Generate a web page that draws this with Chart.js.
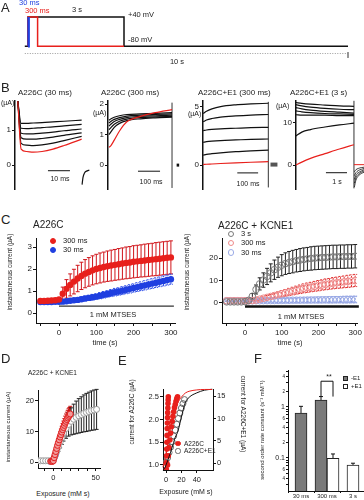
<!DOCTYPE html>
<html>
<head>
<meta charset="utf-8">
<script src="https://cdn.jsdelivr.net/npm/chart.js@4.4.1/dist/chart.umd.min.js"></script>
<style>
  body { margin: 0; background: #fff; }
  #fig { position: relative; width: 364px; height: 500px; overflow: hidden; font-family: "Liberation Sans", Arial, sans-serif; color: #222; }
  #fig div.t { position: absolute; white-space: nowrap; line-height: 1; }
  canvas { position: absolute; }
</style>
</head>
<body>
<div id="fig"></div>
<script>
// ---- A: voltage protocol (s, mV)
const protoT3s = [-0.1, 0, 0, 3, 3, 10];
const protoV3s = [-80, -80, 40, 40, -80, -80];
const protoT300 = [0, 0, 0.3, 0.3, 3];
const protoV300 = [-80, 40, 40, -80, -80];
const protoT30 = [0, 0, 0.03, 0.03];
const protoV30 = [-80, 40, 40, -80];
const protoDotT = [-0.1, 10];
const protoDotV = [-110, -110];

// ---- B: current traces (ms or s, µA)
const b1Time = [-1, 0.5, 3, 6, 10, 15, 20, 28];
const b1Traces = [
  [1.82, 1.19, 1.19, 1.2, 1.21, 1.23, 1.25, 1.28],
  [1.82, 1.05, 1.04, 1.05, 1.07, 1.09, 1.12, 1.16],
  [1.82, 0.91, 0.89, 0.89, 0.91, 0.94, 0.98, 1.03],
  [1.82, 0.78, 0.74, 0.74, 0.76, 0.8, 0.85, 0.92],
  [1.82, 0.62, 0.57, 0.56, 0.58, 0.63, 0.7, 0.82]
];
const b1Red = [1.82, 0.46, 0.39, 0.37, 0.39, 0.46, 0.56, 0.74];
const b1TailT = [28.2, 28.6, 29.3, 30.5, 31.5];
const b1TailV = [-0.55, -0.35, -0.22, -0.16, -0.14];

const b2Time = [0, 10, 25, 50, 85, 150, 220, 300];
const b2Traces = [
  [1.47, 1.52, 1.57, 1.62, 1.66, 1.68, 1.7, 1.72],
  [1.38, 1.44, 1.5, 1.56, 1.61, 1.64, 1.66, 1.68],
  [1.28, 1.35, 1.43, 1.5, 1.56, 1.6, 1.62, 1.64],
  [1.16, 1.24, 1.34, 1.44, 1.51, 1.56, 1.58, 1.6],
  [1.0, 1.1, 1.24, 1.37, 1.46, 1.52, 1.55, 1.57]
];
const b2Red = [0.58, 0.65, 0.82, 1.12, 1.42, 1.6, 1.72, 1.82];

const b3Time = [0, 15, 40, 80, 150, 220, 300];
const b3Traces = [
  [4.4, 4.6, 4.8, 5.0, 5.15, 5.22, 5.28],
  [3.7, 3.85, 3.98, 4.1, 4.2, 4.27, 4.32],
  [2.95, 3.0, 3.05, 3.1, 3.15, 3.2, 3.23],
  [1.95, 2.0, 2.05, 2.1, 2.15, 2.2, 2.23],
  [0.85, 0.92, 0.98, 1.05, 1.15, 1.22, 1.28]
];
const b3Red = [0.05, 0.08, 0.1, 0.14, 0.2, 0.25, 0.3];

const b4Time = [0, 0.3, 0.75, 1.5, 2.25, 3];
const b4Traces = [
  [14.8, 14.6, 14.4, 14.2, 14.0, 13.9],
  [14.3, 14.0, 13.7, 13.4, 13.2, 13.1],
  [13.6, 13.3, 13.0, 12.7, 12.5, 12.3],
  [12.8, 12.6, 12.4, 12.2, 12.1, 12.0],
  [11.9, 11.8, 11.8, 11.8, 11.7, 11.7],
  [6.9, 7.8, 8.4, 9.0, 9.5, 9.9]
];
const b4Red = [0, 0.7, 1.6, 2.7, 3.8, 4.8];
const b4TailT = [3.02, 3.1, 3.22, 3.38, 3.52];
const b4Tails = [
  [-5.2, -3.6, -2.6, -2.0, -1.7],
  [-4.3, -3.0, -2.2, -1.7, -1.4],
  [-3.4, -2.4, -1.8, -1.4, -1.1],
  [-2.5, -1.8, -1.3, -1.0, -0.8],
  [-1.6, -1.1, -0.8, -0.6, -0.5]
];

// ---- C: instantaneous current vs time (s, µA)
const cTime = [-50,-40,-30,-20,-10,0,10,20,30,40,50,60,70,80,90,100,110,120,130,140,150,160,170,180,190,200,210,220,230,240,250,260,270,280,290,300];
const cRed300 = [0.55,0.55,0.56,0.57,0.58,0.62,0.88,1.1,1.28,1.43,1.57,1.69,1.79,1.87,1.94,2.0,2.05,2.09,2.13,2.16,2.19,2.22,2.25,2.28,2.3,2.33,2.35,2.37,2.39,2.41,2.43,2.45,2.47,2.49,2.51,2.53];
const cRedErr = [0.04,0.04,0.04,0.05,0.05,0.08,0.3,0.42,0.5,0.56,0.6,0.62,0.64,0.65,0.66,0.67,0.68,0.68,0.69,0.7,0.7,0.71,0.71,0.72,0.72,0.73,0.73,0.73,0.74,0.74,0.74,0.75,0.75,0.75,0.75,0.75];
const cBlue30 = [0.5,0.5,0.5,0.5,0.51,0.51,0.52,0.54,0.56,0.58,0.6,0.63,0.66,0.69,0.72,0.75,0.79,0.83,0.87,0.91,0.95,0.98,1.02,1.06,1.1,1.14,1.18,1.22,1.26,1.3,1.34,1.38,1.42,1.46,1.5,1.54];
const cBlueErr = [0.03,0.03,0.03,0.03,0.03,0.04,0.05,0.06,0.07,0.08,0.09,0.1,0.11,0.12,0.13,0.13,0.14,0.15,0.15,0.16,0.17,0.17,0.18,0.18,0.19,0.19,0.2,0.2,0.21,0.21,0.22,0.22,0.22,0.23,0.23,0.23];

const kc3s = [0.5,0.5,0.5,0.5,0.5,0.6,1.2,3,6,8.5,10.2,11.8,13.4,14.8,15.9,16.8,17.5,18,18.4,18.8,19.1,19.4,19.6,19.8,20,20.1,20.2,20.3,20.4,20.5,20.5,20.6,20.6,20.7,20.7,20.8];
const kc3sErr = [0,0,0,0,0,0.3,0.6,1.2,2,2.7,3.2,3.6,4,4.3,4.5,4.7,4.8,4.9,5,5,5.1,5.1,5.1,5.2,5.2,5.2,5.2,5.2,5.2,5.2,5.2,5.2,5.2,5.2,5.2,5.2];
const kc300 = [1,1,1,1,1,1,1,1.1,1.3,1.7,2.1,2.5,2.9,3.3,3.7,4.1,4.5,4.9,5.3,5.7,6.1,6.5,6.8,7.1,7.4,7.7,8,8.3,8.5,8.8,9,9.2,9.4,9.6,9.8,10];
const kc300Err = [0,0,0,0,0,0,0,0.2,0.4,0.5,0.6,0.8,0.9,1.1,1.2,1.4,1.5,1.6,1.7,1.8,1.9,2,2.1,2.1,2.2,2.3,2.3,2.4,2.4,2.5,2.5,2.6,2.6,2.7,2.7,2.7];
const kc30 = [1,1,1,1,1,1,1,1,1.02,1.04,1.06,1.08,1.1,1.12,1.14,1.16,1.18,1.2,1.22,1.24,1.26,1.28,1.3,1.32,1.34,1.36,1.38,1.4,1.42,1.44,1.46,1.48,1.5,1.52,1.54,1.56];
const kc30Err = [0.3,0.3,0.3,0.3,0.3,0.3,0.4,0.5,0.6,0.6,0.7,0.7,0.8,0.8,0.9,0.9,1,1,1,1.1,1.1,1.1,1.2,1.2,1.2,1.3,1.3,1.3,1.4,1.4,1.4,1.4,1.5,1.5,1.5,1.5];
const cXTicks = [-50, 0, 50, 100, 150, 200, 250, 300];
const cXLabels = [0, 100, 200, 300];

// ---- D: current vs exposure (mM s, µA)
const d3sExp = [-18,-15,-12,-9,-6,-3,0,2,4,6,8,10,12,15,18,21,24,27,30,33,36,39,42,45,48,51];
const d3sCur = [0.5,0.5,0.5,0.5,0.5,0.5,0.8,2,3.5,5,6.5,8,9.5,11,12.3,13.3,14,14.6,15.1,15.5,15.9,16.2,16.5,16.8,17,17.2];
const d3sErr = [0,0,0,0,0,0,0.3,0.6,1,1.4,1.8,2.2,2.6,3.2,3.8,4.4,4.9,5.3,5.6,5.8,6,6.2,6.3,6.4,6.5,6.5];
const d300Exp = [-3,-2,-1,0,1,2,3,4,5,6,7,8,9,10,11,12,13,14,15,16,17,18,19,20];
const d300Cur = [0.3,0.3,0.3,0.5,1.5,2.5,3.5,4.5,5.5,6.4,7.3,8.2,9,9.8,10.6,11.3,12,12.7,13.3,13.9,14.4,14.9,15.3,15.7];
const d300Err = [0,0,0,0,0.3,0.5,0.7,0.9,1.1,1.3,1.5,1.7,1.8,1.9,2,2.1,2.2,2.3,2.4,2.4,2.5,2.5,2.5,2.5];
const d30Exp = [-4,-3,-2,-1,0,1,2,3];
const d30Cur = [0.3,0.3,0.3,0.4,0.7,1.3,2,2.7];

// ---- E: normalised comparison (mM s; µA left, µA right)
const eExpA1 = [0,0.2,0.4,0.6,0.8,1,1.2,1.4,1.6,1.8,2,2.2,2.4,2.6,2.8,3];
const eCurA1 = [0.6,0.75,0.9,1.05,1.2,1.35,1.5,1.65,1.8,1.92,2.04,2.15,2.25,2.35,2.43,2.5];
const eExpA2 = [0,1,2,3,4,5,6,7,8,9,10,11,12,13,14,15];
const eCurA2 = [0.6,0.8,1.0,1.2,1.38,1.55,1.7,1.84,1.96,2.07,2.17,2.26,2.33,2.4,2.46,2.5];
const eExpB = [0,2,4,6,8,10,12,14,16,18,20,22,24];
const eCurB = [0.2,1.2,2.4,3.6,4.8,6.1,7.4,8.7,10,11.2,12.3,13.3,14.2];
const eFitX = [-4,-2,0,2,4,6,8,10,12,15,20,25,30,40,50,60];
const eFitRed = [0.95,1.08,1.2,1.43,1.65,1.84,2.0,2.13,2.24,2.36,2.49,2.58,2.62,2.65,2.66,2.66];
const eFitBlack = [-1.5,-1.2,-0.4,0.5,1.5,2.5,3.6,4.7,5.8,6.9,10.3,13.5,14.7,15.7,16.3,16.5];

// ---- F: second order rate constants (s-1 mM-1)
const fCats = ['30 ms', '300 ms', '3 s'];
const fMinusE1 = [0.76, 1.37, null];
const fMinusErr = [0.27, 0.23, null];
const fPlusE1 = [null, 0.098, 0.073];
const fPlusErr = [null, 0.022, 0.006];
const fLogTicks = [0.03,0.04,0.05,0.06,0.07,0.08,0.09,0.1,0.2,0.3,0.4,0.5,0.6,0.7,0.8,0.9,1,2,3,4,5];

const RED = '#e8201c';
const BLUE = '#1f3fe0';
const fig = document.getElementById('fig');
Chart.defaults.font.family = '"Liberation Sans", Arial, sans-serif';
Chart.defaults.font.size = 8;
Chart.defaults.color = '#222';

// error bars drawn from a dataset's "errors" list through its own scales
const errorBars = {
  id: 'errorBars',
  beforeDatasetsDraw(chart) {
    const ctx = chart.ctx;
    chart.data.datasets.forEach((ds, di) => {
      if (!ds.errors) return;
      const meta = chart.getDatasetMeta(di);
      const ys = chart.scales[meta.yAxisID];
      ctx.save();
      ctx.strokeStyle = ds.errColor || '#111';
      ctx.lineWidth = ds.errWidth || 1;
      ctx.setLineDash(ds.errDash || []);
      meta.data.forEach((el, i) => {
        const e = ds.errors[i];
        const d = ds.data[i];
        const v = (typeof d === 'number') ? d : (d ? d.y : null);
        if (!e || v == null) return;
        const top = ys.getPixelForValue(v + e);
        const bot = ds.errUpOnly ? el.y : ys.getPixelForValue(v - e);
        const cw = ds.errCap == null ? 2 : ds.errCap;
        ctx.beginPath();
        ctx.moveTo(el.x, bot); ctx.lineTo(el.x, top);
        ctx.moveTo(el.x - cw, top); ctx.lineTo(el.x + cw, top);
        if (!ds.errUpOnly) { ctx.moveTo(el.x - cw, bot); ctx.lineTo(el.x + cw, bot); }
        ctx.stroke();
      });
      ctx.restore();
    });
  }
};
Chart.register(errorBars);

const xy = (xs, ys) => xs.map((x, i) => ({ x: x, y: ys[i] }));

function line(xs, ys, color, width, extra) {
  return Object.assign({
    data: xy(xs, ys), showLine: true, pointRadius: 0, borderColor: color,
    borderWidth: width, tension: 0, clip: false
  }, extra || {});
}
function trace(xs, ys, color, width) {
  return line(xs, ys, color, width || 1, { cubicInterpolationMode: 'monotone' });
}
function marks(xs, ys, r, fill, stroke, extra) {
  return Object.assign({
    data: xy(xs, ys), showLine: false, pointRadius: r, pointBackgroundColor: fill,
    pointBorderColor: stroke, pointBorderWidth: 1
  }, extra || {});
}

function axis(o) {
  const a = {
    type: o.type || 'linear',
    position: o.position || 'left',
    border: { display: true, color: '#111', width: o.bw || 1 },
    grid: { drawOnChartArea: false, drawTicks: true, tickLength: o.tl || 3, color: '#111' },
    ticks: { font: { size: o.fs || 8 }, padding: o.tp == null ? 1 : o.tp, color: '#222', autoSkip: false, maxRotation: 0 }
  };
  if (o.min != null) a.min = o.min;
  if (o.max != null) a.max = o.max;
  if (o.cb) a.ticks.callback = o.cb;
  if (o.font) a.ticks.font = o.font;
  if (o.gridOffset) a.grid.offset = true;
  if (o.ticksAt) a.afterBuildTicks = s => { s.ticks = o.ticksAt.map(v => ({ value: v })); };
  return a;
}

// place a canvas so its plot area lands on (x0,y0)-(x1,y1) of the page
function mkChart(L, T, W, H, x0, y0, x1, y1, cfg) {
  const c = document.createElement('canvas');
  c.width = W; c.height = H;
  c.style.left = L + 'px'; c.style.top = T + 'px';
  c.style.width = W + 'px'; c.style.height = H + 'px';
  fig.appendChild(c);
  const pad = { top: y0 - T, left: 0, right: 0, bottom: 0 };
  let hasL = false, hasR = false, hasB = false;
  const sc = cfg.options.scales;
  for (const k in sc) {
    const s = sc[k];
    if (s.display === false) continue;
    if (s.position === 'right') { hasR = true; s.afterFit = a => { a.width = L + W - x1; }; }
    else if (s.position === 'bottom') { hasB = true; s.afterFit = a => { a.height = T + H - y1; }; }
    else { hasL = true; s.afterFit = a => { a.width = x0 - L; }; }
  }
  if (!hasL) pad.left = x0 - L;
  if (!hasR) pad.right = L + W - x1;
  if (!hasB) pad.bottom = T + H - y1;
  cfg.options = Object.assign({
    responsive: false, animation: false, events: [], devicePixelRatio: 1,
    layout: { padding: pad },
    plugins: { legend: { display: false }, tooltip: { enabled: false } }
  }, cfg.options);
  return new Chart(c, cfg);
}
const hidden = (min, max) => ({ display: false, type: 'linear', min: min, max: max });

function txt(s, x, cy, size, o) {
  o = o || {};
  const d = document.createElement('div');
  d.className = 't';
  d.textContent = s;
  d.style.left = x + 'px';
  d.style.top = cy + 'px';
  d.style.fontSize = size + 'px';
  if (o.color) d.style.color = o.color;
  let tr = o.center ? 'translate(-50%,-50%)' : 'translateY(-50%)';
  if (o.rot) tr = 'translate(-50%,-50%) rotate(' + o.rot + 'deg)';
  d.style.transform = tr;
  fig.appendChild(d);
}
function key(cx, cy, r, fill, stroke, square) {
  const d = document.createElement('div');
  d.style.cssText = 'position:absolute;box-sizing:border-box;left:' + (cx - r) + 'px;top:' + (cy - r) +
    'px;width:' + (2 * r) + 'px;height:' + (2 * r) + 'px;background:' + fill + ';border:1px solid ' + stroke +
    ';border-radius:' + (square ? '0' : '50%');
  fig.appendChild(d);
}

// ---------- A
mkChart(0, 0, 364, 75, 24.8, 17, 348, 58.4, {
  type: 'scatter',
  data: { datasets: [
    line(protoT30, protoV30, BLUE, 2.5),
    line(protoT300, protoV300, RED, 1.5),
    line(protoT3s, protoV3s, '#111', 1.5),
    line([10, 10], [-104, -128], '#888', 1),
    line(protoDotT, protoDotV, '#9a9a9a', 1, { borderDash: [1, 1.5] })
  ] },
  options: { scales: { x: hidden(-0.1, 10), y: hidden(-130, 40) } }
});

// ---------- B
mkChart(0, 95, 92, 100, 15, 100, 90, 192, {
  type: 'scatter',
  data: { datasets: [
    trace(b1Time, b1Red, RED, 1.2),
    ...b1Traces.map(v => trace(b1Time, v, '#111', 1.2)),
    trace(b1TailT, b1TailV, '#111', 1.2),
    line([12.7, 22.7], [-0.155, -0.155], '#111', 1)
  ] },
  options: { scales: { x: hidden(-2.27, 31.8), y: axis({ min: -0.68, max: 1.83, ticksAt: [0, 1], bw: 1.5 }) } }
});
mkChart(88, 95, 95, 100, 108, 100, 180, 192, {
  type: 'scatter',
  data: { datasets: [
    trace(b2Time, b2Red, RED, 1.2),
    ...b2Traces.map(v => trace(b2Time, v, '#111', 1.2)),
    line([300, 300], [-0.75, 2.05], '#333', 1),
    line([322, 334], [0, 0], '#111', 3),
    line([138, 243], [-0.2, -0.2], '#111', 1)
  ] },
  options: { scales: { x: hidden(-4.76, 338), y: axis({ min: -0.79, max: 2.11, ticksAt: [0, 1, 2], bw: 1.5 }) } }
});
mkChart(183, 95, 97, 100, 203, 100, 278, 192, {
  type: 'scatter',
  data: { datasets: [
    trace(b3Time, b3Red, RED, 1.2),
    ...b3Traces.map(v => trace(b3Time, v, '#111', 1.2)),
    line([300, 300], [-1.9, 5.4], '#333', 1),
    line([310, 342], [0.05, 0.05], '#555', 4),
    line([157, 253], [-0.66, -0.66], '#111', 1)
  ] },
  options: { scales: { x: hidden(-1, 344.6), y: axis({ min: -2.05, max: 5.49, ticksAt: [0, 5], bw: 1.5 }) } }
});
mkChart(278, 95, 86, 100, 296, 100, 364, 192, {
  type: 'scatter',
  data: { datasets: [
    trace(b4Time, b4Red, RED, 1.2),
    ...b4Traces.map(v => trace(b4Time, v, '#111', 1.2)),
    line([3, 3.52], [0.1, 0.1], RED, 1),
    ...b4Tails.map(v => trace(b4TailT, v, '#111', 0.8)),
    line([3, 3], [-5.5, 15.2], '#333', 1),
    line([1.55, 2.64], [-1.8, -1.8], '#111', 1)
  ] },
  options: { scales: { x: hidden(0, 3.52), y: axis({ min: -5.7, max: 15.2, ticksAt: [0, 10], bw: 1.5 }) } }
});

// ---------- C
const cXAxis = () => axis({ position: 'bottom', ticksAt: cXTicks, cb: v => cXLabels.includes(v) ? v : '', tp: 2 });
mkChart(0, 228, 182, 122, 36, 238, 175, 323, {
  type: 'scatter',
  data: { datasets: [
    marks(cTime, cRed300, 3.2, RED, RED, { pointBorderWidth: 0, errors: cRedErr, errColor: '#d0141a' }),
    marks(cTime, cBlue30, 3.2, BLUE, BLUE, { pointBorderWidth: 0, errors: cBlueErr, errColor: '#3050e8', errDash: [2, 1] }),
    line([0, 308], [0.32, 0.32], '#333', 1.2)
  ] },
  options: { scales: { x: Object.assign(cXAxis(), { min: -61.7, max: 311 }), y: axis({ min: -0.45, max: 3.41, ticksAt: [0, 1, 2, 3] }) } }
});
mkChart(182, 228, 182, 122, 222, 238, 357, 323, {
  type: 'scatter',
  data: { datasets: [
    marks(cTime, kc3s, 3.3, 'rgba(255,255,255,0)', '#7a7a7a', { errors: kc3sErr, errColor: '#222' }),
    marks(cTime, kc300, 3.3, 'rgba(255,255,255,0)', '#ee8a8a', { errors: kc300Err, errColor: '#e03030', errDash: [2, 1] }),
    marks(cTime, kc30, 3.3, 'rgba(255,255,255,0)', '#9aaae6', { errors: kc30Err, errColor: '#8899dd', errDash: [2, 1] }),
    line([0, 310], [-1.6, -1.6], '#111', 2.5)
  ] },
  options: { scales: { x: Object.assign(cXAxis(), { min: -62.7, max: 305 }), y: axis({ min: -8.9, max: 28.9, ticksAt: [0, 10, 20] }) } }
});

// ---------- D
mkChart(0, 380, 110, 105, 38, 390, 100, 468, {
  type: 'scatter',
  data: { datasets: [
    marks(d300Exp, d300Cur, 3, '#f29a9a', '#e02020', { errors: d300Err, errColor: '#d01010' }),
    marks(d3sExp, d3sCur, 3, '#ffffff', '#9a9a9a', { errors: d3sErr, errColor: '#222' }),
    marks(d30Exp, d30Cur, 3, 'rgba(255,255,255,0)', '#8ea2e2')
  ] },
  options: { scales: {
    x: axis({ position: 'bottom', min: -18, max: 55, ticksAt: [-10, 0, 10, 20, 30, 40, 50], cb: v => (v === 0 || v === 50) ? v : '', fs: 7.5, tp: 2 }),
    y: axis({ min: -1.85, max: 23.5, ticksAt: [0, 10, 20], fs: 7.5 })
  } }
});

// ---------- E
mkChart(125, 380, 125, 105, 163, 389, 213, 470, {
  type: 'scatter',
  data: { datasets: [
    trace(eFitX, eFitRed, RED, 1),
    Object.assign(trace(eFitX, eFitBlack, '#111', 1), { yAxisID: 'y2' }),
    marks(eExpA1, eCurA1, 2.8, RED, RED, { pointBorderWidth: 0 }),
    marks(eExpA2, eCurA2, 2.8, RED, RED, { pointBorderWidth: 0 }),
    marks(eExpB, eCurB, 3, 'rgba(255,255,255,0)', '#6a6a6a', { yAxisID: 'y2' })
  ] },
  options: { scales: {
    x: axis({ position: 'bottom', min: -3.9, max: 61, ticksAt: [0, 20, 40], fs: 7.5, tp: 2 }),
    y: axis({ min: 0.889, max: 2.67, ticksAt: [1, 1.5, 2, 2.5], cb: v => v.toFixed(1), fs: 7.5 }),
    y2: axis({ position: 'right', min: -1.49, max: 16.56, ticksAt: [0, 5, 10, 15], fs: 7.5 })
  } }
});

// ---------- F
const fSigTop = 3.2, fSigFoot = 1.6;
const bracket = {
  id: 'bracket',
  afterDatasetsDraw(chart) {
    const a = chart.getDatasetMeta(0).data[1], b = chart.getDatasetMeta(1).data[1];
    const ys = chart.scales.y, ctx = chart.ctx;
    const top = ys.getPixelForValue(fSigTop), foot = ys.getPixelForValue(fSigFoot);
    ctx.save();
    ctx.strokeStyle = '#111'; ctx.lineWidth = 1;
    ctx.beginPath();
    ctx.moveTo(a.x, foot); ctx.lineTo(a.x, top); ctx.lineTo(b.x, top); ctx.lineTo(b.x, foot);
    ctx.stroke();
    ctx.restore();
  }
};
mkChart(250, 365, 116, 135, 288, 370, 366, 491, {
  type: 'bar',
  data: { labels: fCats, datasets: [
    { data: fMinusE1, backgroundColor: '#7a7a7a', borderColor: '#222', borderWidth: 1, barThickness: 12, skipNull: true,
      errors: fMinusErr, errUpOnly: true, errColor: '#111' },
    { data: fPlusE1, backgroundColor: '#ffffff', borderColor: '#222', borderWidth: 1, barThickness: 12, skipNull: true,
      errors: fPlusErr, errUpOnly: true, errColor: '#111' }
  ] },
  plugins: [bracket],
  options: { scales: {
    x: Object.assign(axis({ type: 'category', position: 'bottom', fs: 6, tl: 2, tp: 0, gridOffset: true })),
    y: axis({ type: 'logarithmic', min: 0.02254, max: 5.31, ticksAt: fLogTicks, tl: 2,
      cb: v => {
        if (Math.abs(v - 1) < 1e-6) return '1';
        if (Math.abs(v - 0.1) < 1e-7) return '0.1';
        const m = Math.round(v / Math.pow(10, Math.floor(Math.log10(v) + 1e-9)));
        return [2, 4, 6].includes(m) ? String(m) : '';
      },
      font: ctx => ({ size: (ctx.tick && (Math.abs(ctx.tick.value - 1) < 1e-6 || Math.abs(ctx.tick.value - 0.1) < 1e-7)) ? 7 : 4.5 })
    })
  } }
});

// ---------- text
txt('A', 1, 7, 13);
txt('30 ms', 19, 3, 7.5, { color: BLUE });
txt('300 ms', 25, 10.5, 7.5, { color: RED });
txt('3 s', 72, 10, 7.5);
txt('+40 mV', 128, 15, 7.5);
txt('-80 mV', 128, 40, 7.5);
txt('10 s', 177, 62, 7.5, { center: true });

txt('B', 1, 87, 13);
txt('A226C (30 ms)', 18, 93, 8);
txt('A226C (300 ms)', 101, 93, 8);
txt('A226C+E1 (300 ms)', 198, 93, 8);
txt('A226C+E1 (3 s)', 290, 93, 8);
txt('(µA)', 1, 102, 7);
txt('(µA)', 93, 112, 7);
txt('(µA)', 188, 113, 7);
txt('(µA)', 276, 105, 7);
txt('10 ms', 60, 177.5, 7, { center: true });
txt('100 ms', 151, 180.5, 7, { center: true });
txt('100 ms', 248, 182.5, 7, { center: true });
txt('1 s', 337, 180.5, 7, { center: true });

txt('C', 1, 219, 13);
txt('A226C', 33, 225, 10);
txt('A226C + KCNE1', 218, 226, 10);
key(53, 240.7, 3.2, RED, RED);
txt('300 ms', 63, 240.5, 7.5);
key(53, 250, 3.2, BLUE, BLUE);
txt('30 ms', 63, 250, 7.5);
key(231, 234, 3.2, '#fff', '#7a7a7a');
txt('3 s', 241, 234, 7.5);
key(231, 243, 3.2, '#fff', '#ee8a8a');
txt('300 ms', 241, 243, 7.5);
key(231, 252.5, 3.2, '#fff', '#9aaae6');
txt('30 ms', 241, 252.5, 7.5);
txt('instantaneous current (µA)', 10, 272, 6.5, { rot: -90 });
txt('instantaneous current (µA)', 187, 272, 6.5, { rot: -90 });
txt('1 mM MTSES', 113, 315, 7.5, { center: true });
txt('1 mM MTSES', 301, 317, 7.5, { center: true });
txt('time (s)', 105, 343, 7.5, { center: true });
txt('time (s)', 290, 343, 7.5, { center: true });

txt('D', 1, 358, 13);
txt('A226C + KCNE1', 28, 373, 6.5);
txt('instantaneous current (µA)', 8, 427, 6, { rot: -90 });
txt('Exposure (mM s)', 63, 493, 7, { center: true });

txt('E', 118, 360, 13);
txt('current for A226C (µA)', 132, 412, 6.5, { rot: -90 });
txt('current for A226C+E1 (µA)', 243, 414, 6.5, { rot: 90 });
key(178, 443.5, 2.6, RED, RED);
txt('A226C', 184, 443.5, 6.5);
key(178, 451, 2.6, '#fff', '#6a6a6a');
txt('A226C+E1', 184, 451, 6.5);
txt('Exposure (mM s)', 186, 491, 7, { center: true });

txt('F', 254, 358, 13);
txt('second order rate constant (s⁻¹ mM⁻¹)', 262, 430, 6, { rot: -90 });
txt('**', 329, 376, 7, { center: true });
key(345, 378, 2.5, '#7a7a7a', '#222', true);
txt('-E1', 351, 378, 6);
key(345, 386, 2.5, '#fff', '#222', true);
txt('+E1', 351, 386, 6);
</script>
</body>
</html>
